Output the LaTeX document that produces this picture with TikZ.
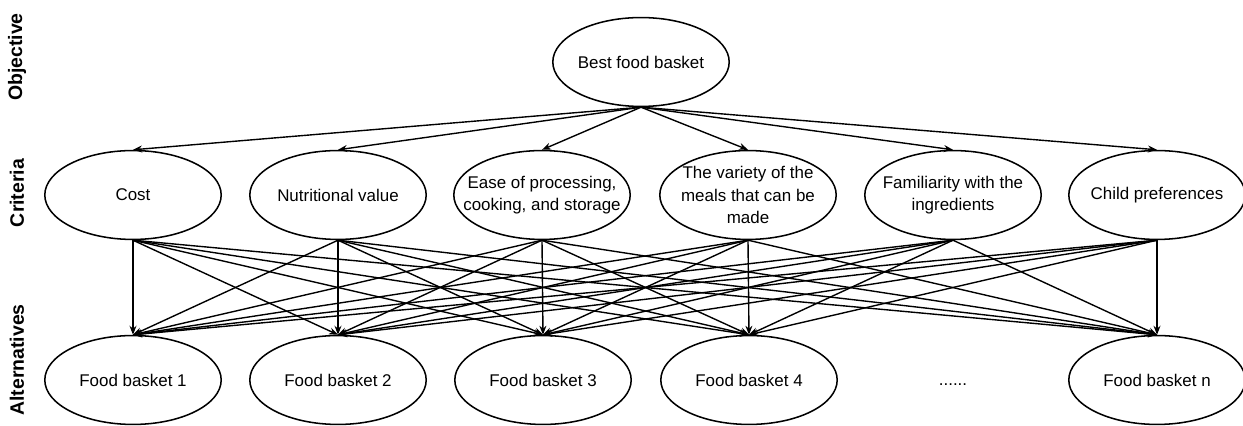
\documentclass[tikz,border=0pt]{standalone}
\usepackage{fontspec}
\setmainfont{Liberation Sans}
\usetikzlibrary{shapes.geometric,arrows.meta}

\tikzset{
	oval/.style={draw, ellipse, line width=1.1pt, minimum width=127pt, minimum height=64pt, inner sep=0pt},
	txt/.style={align=center, font=\fontsize{12.2}{16}\selectfont},
	level/.style={rotate=90, font=\bfseries\fontsize{14}{16}\selectfont},
	link/.style={line width=1pt, -{Stealth[length=6.5pt,width=5pt]}}
}

\begin{document}
\begin{tikzpicture}[x=0.72pt, y=-0.72pt]
		\useasboundingbox (0,0) rectangle (1243,426);
		\node[level] (lobj) at (17,57) {Objective};
		\node[level] (lcrit) at (17,193) {Criteria};
		\node[level] (lalt) at (17,360) {Alternatives};
		\node[oval, label={[txt]center:Best food basket}] (goal) at (641,62) {};
		\node[oval, label={[txt]center:Cost}] (c1) at (133,195) {};
		\node[oval, label={[txt]center:Nutritional value}] (c2) at (338,195) {};
		\node[oval, label={[txt]center:Ease of processing,\\cooking, and storage}] (c3) at (542,195) {};
		\node[oval, label={[txt]center:The variety of the\\meals that can be\\made}] (c4) at (748,195) {};
		\node[oval, label={[txt]center:Familiarity with the\\ingredients}] (c5) at (953,195) {};
		\node[oval, label={[txt]center:Child preferences}] (c6) at (1157,195) {};
		\foreach \i/\x in {1/133,2/338,3/543,4/749}{
			\node[oval, label={[txt]center:Food basket \i}] (a\i) at (\x,380) {};
		}
		\node[oval, label={[txt]center:Food basket n}] (a5) at (1157,380) {};
		\node[txt] (dots) at (953,385) {......};
		\foreach \j in {1,...,6}{
			\draw[link] (goal.south) -- (c\j.north);
		}
		\foreach \j in {1,...,6}{
			\foreach \k in {1,...,5}{
				\draw[link] (c\j.south) -- (a\k.north);
			}
		}
	\end{tikzpicture}
\end{document}
